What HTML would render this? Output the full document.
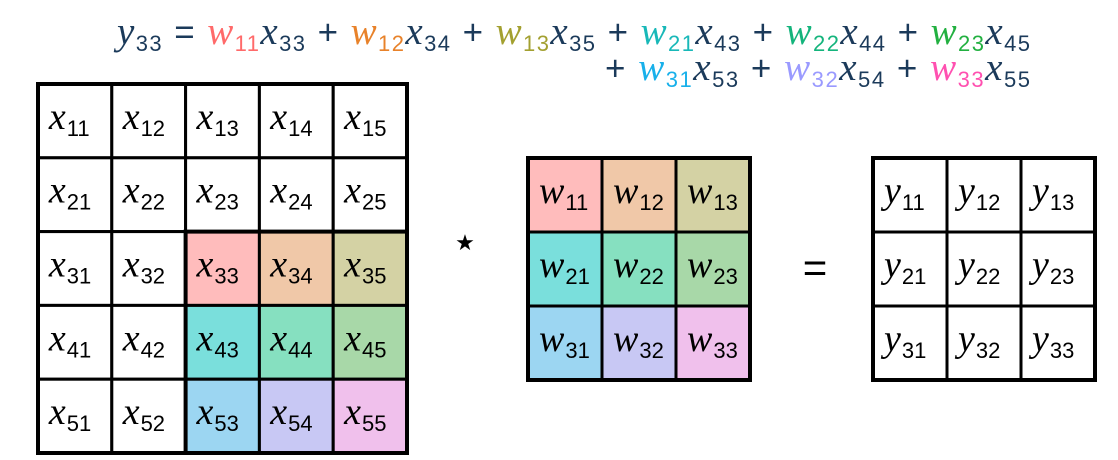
<!DOCTYPE html>
<html><head><meta charset="utf-8">
<style>
html,body{margin:0;padding:0;background:#fff;}
svg{display:block}
.v{font-family:"Liberation Serif",serif;font-style:italic;}
.s{font-family:"Liberation Sans",sans-serif;font-style:normal;}
</style></head>
<body>
<svg id="fig" width="1118" height="460" viewBox="0 0 1118 460" xmlns="http://www.w3.org/2000/svg">
<g id="eq"></g>
<g id="inputGrid"></g>
<g id="kernelGrid"></g>
<g id="outputGrid"></g>
<text x="465" y="250" font-size="22" text-anchor="middle" font-family="DejaVu Sans, sans-serif">★</text>
<text x="815" y="282" font-size="42" text-anchor="middle" font-family="Liberation Sans, sans-serif">=</text>
</svg>
<script>
const inputLabels = ["11","12","13","14","15","21","22","23","24","25","31","32","33","34","35","41","42","43","44","45","51","52","53","54","55"];
const kernelLabels = ["11","12","13","21","22","23","31","32","33"];
const outputLabels = ["11","12","13","21","22","23","31","32","33"];
const overlayFills = ["#ffbcbc","#f0c8a8","#d4d2a4","#7adfdc","#86e0c0","#a8d8a8","#9cd6f2","#c8c8f4","#f0c0ec"];
const termColors = ["#ff6a6a","#e8822a","#a3a030","#18b8b8","#14b47c","#22b040","#18b0ea","#9a9aff","#ff50b0"];
const termInputs = ["33","34","35","43","44","45","53","54","55"];

const NS="http://www.w3.org/2000/svg";
function mk(tag,attrs,parent){const e=document.createElementNS(NS,tag);for(const k in attrs)e.setAttribute(k,attrs[k]);parent.appendChild(e);return e;}

function drawGrid(g,x0,y0,n,cell,letter,labels,fillFn,name){
  labels.forEach((lab,i)=>{
    const r=Math.floor(i/n),c=i%n;
    const x=x0+c*cell,y=y0+r*cell;
    const rect=mk('rect',{x:x,y:y,width:cell,height:cell,fill:fillFn(r,c),stroke:'#000','stroke-width':3},g);
    
    
    const ty=y+cell/2+8;
    const t=mk('text',{x:x+cell/2-26,y:ty,'font-size':38,fill:'#000'},g);
    
    
    const a=mk('tspan',{class:'v'},t);a.textContent=letter;
    const b=mk('tspan',{class:'s','font-size':22,y:ty+7,dx:1},t);b.textContent=lab;
  });
  mk('rect',{x:x0,y:y0,width:cell*n,height:cell*n,fill:'none',stroke:'#000','stroke-width':4},g);
}

drawGrid(document.getElementById('inputGrid'),38,84,5,73.8,'x',inputLabels,(r,c)=>(r>=2&&c>=2)?overlayFills[(r-2)*3+(c-2)]:'#fff','input');
mk('rect',{x:38+2*73.8,y:84+2*73.8,width:73.8*3,height:73.8*3,fill:'none',stroke:'#000','stroke-width':4},document.getElementById('inputGrid'));
drawGrid(document.getElementById('kernelGrid'),528,158,3,74,'w',kernelLabels,(r,c)=>overlayFills[r*3+c],'kernel');
drawGrid(document.getElementById('outputGrid'),873,158,3,74,'y',outputLabels,()=>'#fff','output');

const eq=document.getElementById('eq');
const navy='#1b3a5a';
function addTerm(t,letter,sub,color,base){
  const a=mk('tspan',{class:'v',fill:color,y:base,'font-size':39},t);a.textContent=letter;
  const b=mk('tspan',{class:'s','font-size':22,y:base+7,fill:color},t);b.textContent=sub;
}
function plus(t,s,base){const p=mk('tspan',{class:'s',fill:navy,y:base},t);p.textContent=s;}
const b1=44,b2=80;
const l1=mk('text',{x:117,y:b1,'font-size':35,fill:navy,textLength:913,lengthAdjust:'spacing'},eq);


addTerm(l1,'y','33',navy,b1);
plus(l1,' = ',b1);
for(let i=0;i<6;i++){ if(i>0) plus(l1,' + ',b1); addTerm(l1,'w',kernelLabels[i],termColors[i],b1); addTerm(l1,'x',termInputs[i],navy,b1);}
const l2=mk('text',{x:605,y:b2,'font-size':35,fill:navy,textLength:425,lengthAdjust:'spacing'},eq);


for(let i=6;i<9;i++){ plus(l2,i===6?'+ ':' + ',b2); addTerm(l2,'w',kernelLabels[i],termColors[i],b2); addTerm(l2,'x',termInputs[i],navy,b2);}
</script>
</body></html>
